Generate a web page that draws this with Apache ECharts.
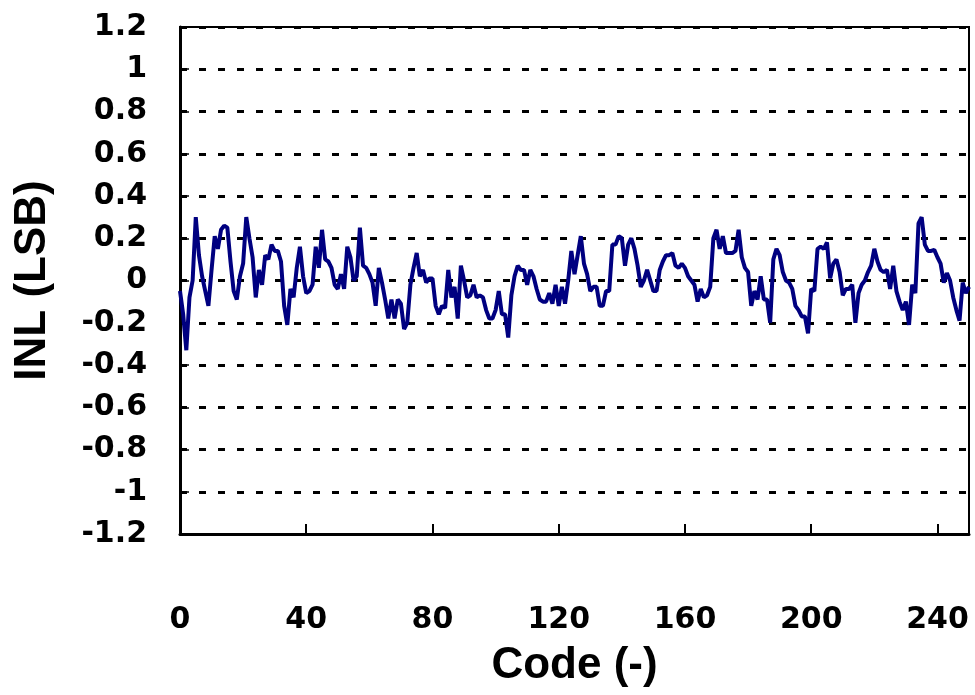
<!DOCTYPE html>
<html>
<head>
<meta charset="utf-8">
<script src="https://cdn.jsdelivr.net/npm/echarts@6/dist/echarts.min.js"></script>
<style>
html,body{margin:0;padding:0;background:#fff;}
#chart{width:975px;height:695px;}
</style>
</head>
<body>
<div id="chart"></div>
<script>
// INL values (LSB) for codes 0..250
const inl = [
 -0.05,-0.16,-0.33,-0.08,0.00,0.30,0.12,0.02,-0.05,-0.12,
 0.05,0.21,0.15,0.24,0.26,0.25,0.09,-0.05,-0.09,0.02,
 0.08,0.30,0.20,0.11,-0.08,0.05,-0.02,0.12,0.10,0.17,
 0.14,0.14,0.09,-0.12,-0.21,-0.04,-0.08,0.06,0.16,0.02,
 -0.06,-0.05,-0.02,0.16,0.06,0.24,0.10,0.09,0.06,-0.02,
 -0.04,0.03,-0.04,0.16,0.11,0.00,0.02,0.25,0.07,0.06,
 0.03,-0.01,-0.12,0.06,-0.01,-0.09,-0.18,-0.09,-0.18,-0.09,
 -0.11,-0.23,-0.20,-0.02,0.06,0.13,0.02,0.05,-0.01,0.01,
 0.01,-0.12,-0.16,-0.12,-0.13,0.05,-0.08,-0.03,-0.18,0.07,
 0.00,-0.08,-0.07,-0.02,-0.08,-0.07,-0.08,-0.14,-0.18,-0.18,
 -0.14,-0.05,-0.16,-0.16,-0.27,-0.07,0.02,0.07,0.05,0.05,
 -0.02,0.05,0.02,-0.04,-0.09,-0.10,-0.10,-0.06,-0.11,-0.02,
 -0.12,-0.03,-0.11,0.00,0.14,0.03,0.12,0.21,0.08,0.03,
 -0.05,-0.03,-0.03,-0.12,-0.12,-0.05,-0.05,0.17,0.17,0.21,
 0.20,0.07,0.17,0.20,0.15,0.07,-0.03,0.00,0.05,0.00,
 -0.05,-0.05,0.05,0.09,0.12,0.12,0.13,0.07,0.06,0.08,
 0.06,0.02,0.00,-0.02,-0.10,-0.04,-0.08,-0.07,-0.03,0.20,
 0.24,0.15,0.21,0.13,0.13,0.13,0.14,0.24,0.11,0.06,
 0.04,-0.12,-0.05,-0.09,0.02,-0.09,-0.09,-0.20,0.10,0.15,
 0.12,0.04,0.00,-0.01,-0.04,-0.12,-0.14,-0.17,-0.17,-0.25,
 -0.04,-0.05,0.15,0.16,0.15,0.18,0.01,0.08,0.10,0.04,
 -0.07,-0.04,-0.04,-0.02,-0.20,-0.06,-0.02,0.00,0.04,0.07,
 0.15,0.09,0.05,0.04,0.05,-0.04,0.07,-0.05,-0.10,-0.14,
 -0.10,-0.21,-0.02,-0.06,0.27,0.30,0.17,0.14,0.14,0.145,
 0.11,0.08,-0.01,0.035,0.00,-0.08,-0.14,-0.19,-0.01,-0.06,
 -0.03
];
const codes = inl.map((_, i) => i);
const xTickValues = [0, 40, 80, 120, 160, 200, 240];
const xTitle = 'Code (-)';
const yTitle = 'INL (LSB)';

const tickFont = {color:'#000', fontSize:30, fontWeight:'bold', fontFamily:'DejaVu Sans, sans-serif'};
const titleFont = {color:'#000', fontSize:44, fontWeight:'bold', fontFamily:'Liberation Sans, Arial, sans-serif'};

const chart = echarts.init(document.getElementById('chart'), null, {renderer:'canvas'});
chart.setOption({
  animation:false,
  backgroundColor:'#fff',
  grid:{left:180, right:6, top:27, bottom:161, outerBoundsMode:'none', containLabel:false,
        show:true, borderColor:'#000', borderWidth:2, backgroundColor:'transparent'},
  xAxis:{
    type:'value', min:0, max:250, interval:40,
    name:xTitle, nameLocation:'middle', nameGap:110, nameMoveOverlap:false, nameTextStyle:titleFont,
    axisLine:{onZero:false, lineStyle:{color:'#000', width:3}},
    axisTick:{inside:true, length:10, lineStyle:{color:'#000', width:2}},
    axisLabel:Object.assign({margin:71, showMaxLabel:false,
      formatter:v => xTickValues.indexOf(v) >= 0 ? String(v) : ''}, tickFont),
    splitLine:{show:false}
  },
  yAxis:{
    type:'value', min:-1.2, max:1.2, interval:0.2,
    name:yTitle, nameLocation:'middle', nameGap:125, nameRotate:90, nameMoveOverlap:false, nameTextStyle:titleFont,
    axisLine:{onZero:false, lineStyle:{color:'#000', width:3}},
    axisTick:{inside:true, length:9, lineStyle:{color:'#000', width:1.5}},
    axisLabel:Object.assign({margin:33, formatter:v => String(+v.toFixed(1))}, tickFont),
    splitLine:{show:true, lineStyle:{color:'#000', width:3, type:[7,12]}}
  },
  series:[{
    type:'line',
    data:codes.map((c, i) => [c, inl[i]]),
    showSymbol:false,
    symbol:'none',
    lineStyle:{color:'#000080', width:4},
    z:5
  }]
});
</script>
</body>
</html>
